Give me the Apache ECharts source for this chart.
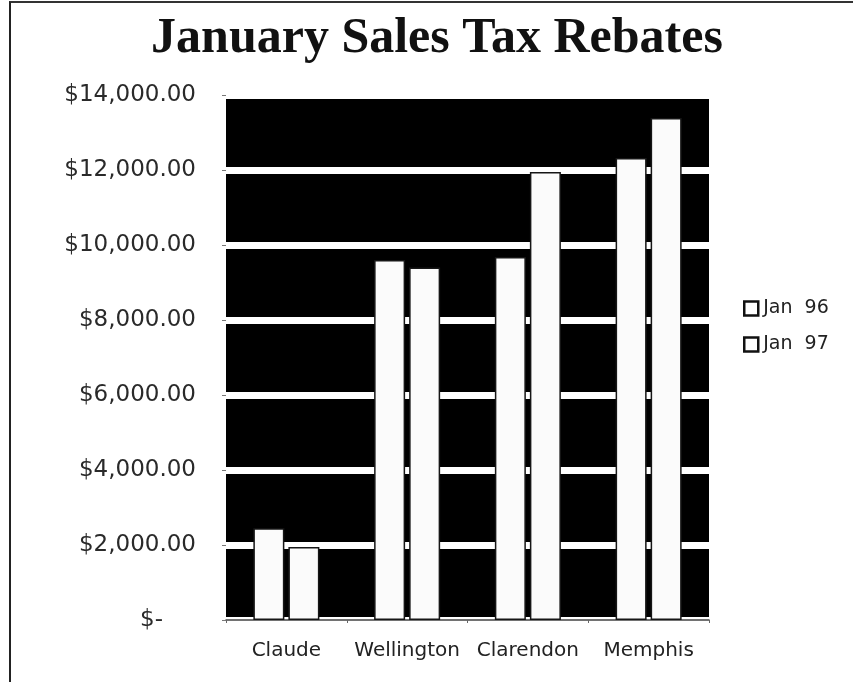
<!DOCTYPE html>
<html>
<head>
<meta charset="utf-8">
<title>January Sales Tax Rebates</title>
<script src="https://cdn.jsdelivr.net/npm/echarts@6/dist/echarts.min.js"></script>
<style>
  html, body { margin: 0; padding: 0; background: #fff; }
  #wrap { position: relative; width: 853px; height: 682px; }
  #chart { width: 853px; height: 682px; }
  /* scanned page frame (left + top edges only) */
  #frame {
    position: absolute; left: 9px; top: 1px; right: -4px; bottom: -4px;
    border-left: 2px solid #222; border-top: 2px solid #333;
    pointer-events: none;
  }
</style>
</head>
<body>
<div id="wrap">
  <div id="chart"></div>
  <div id="frame"></div>
</div>
<script>
'use strict';

// 数据
var towns = ['Claude', 'Wellington', 'Clarendon', 'Memphis'];
var jan96 = [2450, 9600, 9680, 12320];
var jan97 = [1950, 9400, 11950, 13390];
var seriesNames = ['Jan 96', 'Jan 97'];
var yTicks = [0, 2000, 4000, 6000, 8000, 10000, 12000, 14000];

var SANS = '"DejaVu Sans", sans-serif';

// $12,000.00 / $-
function money(v) {
    if (v === 0) {
        return '{dash|$-}';
    }
    return '$' + v.toLocaleString('en-US', {minimumFractionDigits: 2, maximumFractionDigits: 2});
}

var barStyle = {
    color: '#fbfbfb',
    borderColor: '#161616',
    borderWidth: 1.5
};

var chart = echarts.init(document.getElementById('chart'));

var option = {
    backgroundColor: '#fff',
    animation: false,
    title: {
        text: 'January Sales Tax Rebates',
        left: 432,
        top: 9,
        textAlign: 'center',
        textStyle: {
            fontFamily: '"Liberation Serif", "Times New Roman", serif',
            fontWeight: 'bold',
            fontSize: 50,
            color: '#111'
        }
    },
    legend: {
        orient: 'vertical',
        left: 738,
        top: 294,
        itemWidth: 14,
        itemHeight: 14,
        itemGap: 17,
        icon: 'rect',
        data: seriesNames,
        itemStyle: {
            color: '#fff',
            borderColor: '#111',
            borderWidth: 2.5
        },
        textStyle: {
            fontFamily: SANS,
            fontSize: 19,
            color: '#222'
        },
        formatter: function (name) {
            return name.replace(' ', '  ');
        }
    },
    grid: {
        left: 226,
        right: 144,
        top: 95,
        bottom: 62,
        show: true,
        backgroundColor: '#000',
        borderWidth: 0
    },
    xAxis: {
        type: 'category',
        data: towns,
        axisLine: { show: true, lineStyle: { color: '#444', width: 1.5 } },
        axisTick: { show: true, length: 3, lineStyle: { color: '#666' } },
        axisLabel: {
            interval: 0,
            margin: 21,
            fontFamily: SANS,
            fontSize: 20,
            color: '#222'
        }
    },
    yAxis: {
        type: 'value',
        min: yTicks[0],
        max: yTicks[yTicks.length - 1],
        interval: 2000,
        axisLine: { show: false },
        axisTick: { show: true, length: 4, lineStyle: { color: '#777' } },
        splitLine: { show: true, lineStyle: { color: '#fff', width: 7 } },
        axisLabel: {
            margin: 30,
            fontFamily: SANS,
            fontSize: 23,
            color: '#2a2a2a',
            formatter: money,
            rich: {
                dash: {
                    fontFamily: SANS,
                    fontSize: 23,
                    color: '#2a2a2a',
                    padding: [0, 33, 0, 0]
                }
            }
        }
    },
    series: [
        {
            name: seriesNames[0],
            type: 'bar',
            data: jan96,
            barWidth: 31,
            barGap: '13%',
            itemStyle: barStyle,
            z: 3
        },
        {
            name: seriesNames[1],
            type: 'bar',
            data: jan97,
            barWidth: 31,
            barGap: '13%',
            itemStyle: barStyle,
            z: 3
        }
    ]
};

chart.setOption(option);
</script>
</body>
</html>
